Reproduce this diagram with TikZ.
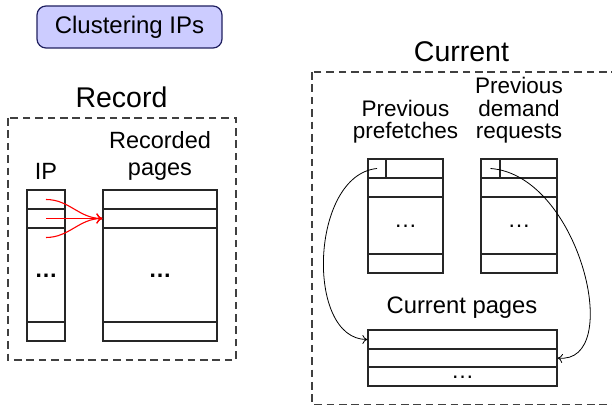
\documentclass[tikz,border=0pt]{standalone}
\usepackage{fontspec}
\setmainfont{Liberation Sans}
\usetikzlibrary{arrows.meta}
\definecolor{tagfill}{HTML}{CCCCFF}
\definecolor{tagdraw}{HTML}{202060}
\tikzset{
  cell/.style={draw=black!85, line width=0.6pt, inner sep=0pt, minimum width=#1},
  tagbox/.style={draw=tagdraw, fill=tagfill, rounded corners=4.5pt, line width=0.6pt,
    minimum width=92.5pt, minimum height=21pt, inner sep=0pt, font=\fontsize{12}{14}\selectfont},
  dashbox/.style={draw=black!75, line width=0.55pt, dash pattern=on 3.8pt off 2.4pt},
  title/.style={anchor=base, inner sep=0pt, font=\fontsize{14.25}{16}\selectfont},
  lbody/.style={align=center, inner sep=0pt, font=\fontsize{11.75}{13.5}\selectfont},
  rbody/.style={align=center, inner sep=0pt, font=\fontsize{11.25}{11.25}\selectfont},
  dotsnode/.style={inner sep=0pt, font=\fontsize{11.5}{13}\selectfont},
  redarrow/.style={draw=red, line width=0.55pt, -{To[length=3pt,width=5pt]}},
  blackarrow/.style={draw=black, line width=0.4pt, -{To[length=2.5pt,width=4.5pt]}},
}
\begin{document}
\begin{tikzpicture}[x=0.5pt, y=-0.5pt]
\useasboundingbox (0,0) rectangle (612,405);

% label in the corner
\node[tagbox] (tag) at (129.5,27) {Clustering IPs};

% ---------- Record ----------
\node[title] (rectitle) at (121.5,108) {Record};
\draw[dashbox] (8,118) rectangle (236,360);

% multi-line labels are placed by the baseline of their last line
\node[lbody, anchor=base] (iplabel) at (46,180) {IP};
\node[lbody, anchor=base] (pglabel) at (160,175.5) {Recorded\\pages};

% IP column
\node[cell=19pt, minimum height=9.5pt] (ip1) at (46,199.5) {};
\node[cell=19pt, minimum height=9.5pt] (ip2) at (46,218.5) {};
\node[cell=19pt, minimum height=47pt] (ip3) at (46,275) {};
\node[cell=19pt, minimum height=9.5pt] (ip4) at (46,331.5) {};
\node[dotsnode] (ipdots) at (46,276) {\textbf{\dots}};

% recorded pages column
\node[cell=57pt, minimum height=9.5pt] (pr1) at (160,199.5) {};
\node[cell=57pt, minimum height=9.5pt] (pr2) at (160,218.5) {};
\node[cell=57pt, minimum height=47pt] (pr3) at (160,275) {};
\node[cell=57pt, minimum height=9.5pt] (pr4) at (160,331.5) {};
\node[dotsnode] (prdots) at (160,276) {\textbf{\dots}};

% several IPs mapped to one page
\coordinate (s1) at (46,199.5);
\coordinate (s2) at (46,218.5);
\coordinate (s3) at (46,237.5);
\draw[redarrow] (s1) to[out=0,in=180] (pr2.west);
\draw[redarrow] (s2) -- (pr2.west);
\draw[redarrow] (s3) to[out=0,in=180] (pr2.west);

% ---------- Current ----------
\node[title] (curtitle) at (461.5,62) {Current};
\draw[dashbox] (312,72) rectangle (660,404.5);

\node[rbody, anchor=base] (pflabel) at (405.5,139) {Previous\\prefetches};
\node[rbody, anchor=base] (dmlabel) at (519,139) {Previous\\demand\\requests};

% previous prefetches
\node[cell=37.5pt, minimum height=9.5pt] (pf1) at (405.5,168.5) {};
\node[cell=9pt, minimum height=9.5pt] (pfs) at (377,168.5) {};
\node[cell=37.5pt, minimum height=9.5pt] (pf2) at (405.5,187.5) {};
\node[cell=37.5pt, minimum height=28.5pt] (pf3) at (405.5,225.5) {};
\node[cell=37.5pt, minimum height=9.5pt] (pf4) at (405.5,263.5) {};
\node[dotsnode] (pfdots) at (405.5,226) {\dots};

% previous demand requests
\node[cell=38pt, minimum height=9.5pt] (dm1) at (519,168.5) {};
\node[cell=9.5pt, minimum height=9.5pt] (dms) at (490.5,168.5) {};
\node[cell=38pt, minimum height=9.5pt] (dm2) at (519,187.5) {};
\node[cell=38pt, minimum height=28.5pt] (dm3) at (519,225.5) {};
\node[cell=38pt, minimum height=9.5pt] (dm4) at (519,263.5) {};
\node[dotsnode] (dmdots) at (519,226) {\dots};

% current pages
\node[rbody, anchor=base, font=\fontsize{11.9}{13}\selectfont] (cplabel) at (462,314) {Current pages};
\node[cell=94.5pt, minimum height=9.5pt] (cp1) at (462.5,339.5) {};
\node[cell=94.5pt, minimum height=9pt] (cp2) at (462.5,358) {};
\node[cell=94.5pt, minimum height=9.5pt] (cp3) at (462.5,376.5) {};
\node[dotsnode] (cpdots) at (462.5,377) {\dots};

% links into the current pages
\draw[blackarrow] (pfs.center) .. controls (310,175) and (305,339.5) .. (cp1.west);
\draw[blackarrow] (dms.center) .. controls (580,175) and (625,365) .. (cp2.east);
\end{tikzpicture}
\end{document}
